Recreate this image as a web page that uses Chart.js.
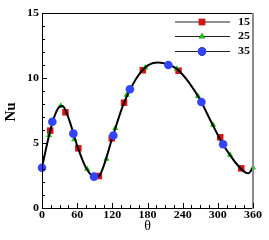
<!DOCTYPE html>
<html>
<head>
<meta charset="utf-8">
<script src="https://cdn.jsdelivr.net/npm/chart.js@4"></script>
<style>
  html, body { margin: 0; padding: 0; background: #fff; }
  #wrap { width: 269px; height: 240px; }
</style>
</head>
<body>
<div id="wrap"><canvas id="chart" width="269" height="240"></canvas></div>
<script>
// Smooth curve (theta in degrees, Nu)
const curveTheta = [0, 10, 20, 30, 35, 45, 60, 75, 90, 97, 105, 120, 140, 160, 180, 198, 215, 230, 250, 270, 290, 310, 330, 345, 352, 360];
const curveNu = [3.1, 5.2, 6.9, 7.8, 7.85, 6.95, 4.8, 3.1, 2.4, 2.45, 3.2, 5.4, 8.1, 9.9, 10.95, 11.2, 11.05, 10.7, 9.7, 8.3, 6.5, 4.8, 3.5, 2.8, 2.67, 3.1];

// Marker series
const theta15 = [14, 40, 62, 97, 119, 140, 172, 233, 304, 340];
const nu15 = [5.95, 7.36, 4.59, 2.46, 5.36, 8.1, 10.6, 10.56, 5.44, 3.05];

const theta25 = [12, 32, 55, 77, 110, 125, 144.5, 176, 230, 266, 292, 321, 360];
const nu25 = [5.6, 7.85, 5.28, 3.0, 3.77, 6.13, 8.7, 10.8, 10.7, 8.6, 6.38, 4.08, 3.1];

const theta35 = [0, 17.6, 53.5, 88.7, 121.7, 150, 215.6, 272, 309];
const nu35 = [3.1, 6.64, 5.72, 2.41, 5.58, 9.13, 11.0, 8.15, 4.9];

const legendLabels = ['15', '25', '35'];
const xTicks = [0, 60, 120, 180, 240, 300, 360];
const yTicks = [0, 5, 10, 15];

const RED = '#dd1111', GREEN = '#11cc11', BLUE = '#3344ff';

function pts(xs, ys) {
    return xs.map((x, i) => ({ x: x, y: ys[i] }));
}

// Draws frame, inward ticks, labels, titles and legend
const framePlugin = {
    id: 'frame',
    afterDraw(chart) {
        const ctx = chart.ctx;
        const xs = chart.scales.x, ys = chart.scales.y;
        const a = chart.chartArea;
        ctx.save();

        // top + left + bottom borders
        ctx.strokeStyle = '#000';
        ctx.lineWidth = 1;
        ctx.beginPath();
        ctx.moveTo(a.left + 0.5, a.bottom + 0.5);
        ctx.lineTo(a.left + 0.5, a.top + 0.5);
        ctx.lineTo(a.right, a.top + 0.5);
        ctx.moveTo(a.left, a.bottom + 0.5);
        ctx.lineTo(a.right, a.bottom + 0.5);
        ctx.stroke();
        // right border in grey
        ctx.strokeStyle = '#8c8c8c';
        ctx.lineWidth = 2;
        ctx.beginPath();
        ctx.moveTo(a.right, a.top);
        ctx.lineTo(a.right, a.bottom + 1);
        ctx.stroke();

        // ticks pointing inwards
        ctx.strokeStyle = '#000';
        ctx.lineWidth = 1;
        ctx.beginPath();
        for (let v = 0; v <= 360; v += 15) {
            const px = Math.round(xs.getPixelForValue(v)) + 0.5;
            const len = v % 60 === 0 ? 5 : 3;
            ctx.moveTo(px, a.bottom);
            ctx.lineTo(px, a.bottom - len);
        }
        for (let v = 0; v <= 15; v += 1) {
            const py = Math.round(ys.getPixelForValue(v)) + 0.5;
            const len = v % 5 === 0 ? 5 : 3;
            ctx.moveTo(a.left, py);
            ctx.lineTo(a.left + len, py);
        }
        ctx.stroke();

        // tick labels (bold serif, slightly wide)
        ctx.fillStyle = '#000';
        ctx.font = 'bold 10px "Liberation Serif"';
        ctx.textBaseline = 'middle';
        const sx = 1.2;
        xTicks.forEach(v => {
            const px = xs.getPixelForValue(v);
            ctx.save();
            ctx.translate(px, 215);
            ctx.scale(sx, 1);
            ctx.textAlign = 'center';
            ctx.fillText(String(v), 0, 0);
            ctx.restore();
        });
        yTicks.forEach(v => {
            const py = ys.getPixelForValue(v);
            ctx.save();
            ctx.translate(a.left - 3, py);
            ctx.scale(sx, 1);
            ctx.textAlign = 'right';
            ctx.fillText(String(v), 0, 0);
            ctx.restore();
        });

        // axis titles
        ctx.font = '14px "Liberation Serif"';
        ctx.textAlign = 'center';
        ctx.fillText('θ', (a.left + a.right) / 2, 226);
        ctx.save();
        ctx.translate(11, 112);
        ctx.rotate(-Math.PI / 2);
        ctx.font = 'bold 15px "Liberation Serif"';
        ctx.fillText('Nu', 0, 0);
        ctx.restore();

        // legend: line with marker in the middle
        const rows = [22, 36.5, 51.5];
        const styles = [
            { color: RED, style: 'rect', r: 4.5 },
            { color: GREEN, style: 'triangle', r: 3.5 },
            { color: BLUE, style: 'circle', r: 4.2 }
        ];
        rows.forEach((y, i) => {
            ctx.strokeStyle = '#222';
            ctx.lineWidth = 1;
            ctx.beginPath();
            ctx.moveTo(175, y);
            ctx.lineTo(230, y);
            ctx.stroke();
            Chart.helpers.drawPoint(ctx, {
                pointStyle: styles[i].style,
                radius: styles[i].r,
                borderWidth: 0
            }, 202, y);
            ctx.fillStyle = styles[i].color;
            ctx.fill();
            ctx.fillStyle = '#000';
            ctx.font = 'bold 10px "Liberation Serif"';
            ctx.save();
            ctx.translate(238, y);
            ctx.scale(sx, 1);
            ctx.textAlign = 'left';
            ctx.fillText(legendLabels[i], 0, 0);
            ctx.restore();
        });

        ctx.restore();
    }
};

function markerSet(label, xs, ys, color, style, r, order) {
    return {
        label: label,
        data: pts(xs, ys),
        showLine: false,
        pointStyle: style,
        pointRadius: r,
        pointBackgroundColor: color,
        pointBorderColor: color,
        pointBorderWidth: 0,
        order: order
    };
}

new Chart(document.getElementById('chart'), {
    type: 'line',
    data: {
        datasets: [
            markerSet('35', theta35, nu35, BLUE, 'circle', 4.3, 0),
            {
                label: 'curve',
                data: pts(curveTheta, curveNu),
                borderColor: '#000',
                borderWidth: 2,
                pointRadius: 0,
                cubicInterpolationMode: 'monotone',
                fill: false,
                order: 1
            },
            markerSet('25', theta25, nu25, GREEN, 'triangle', 3.6, 2),
            markerSet('15', theta15, nu15, RED, 'rect', 4.6, 3)
        ]
    },
    options: {
        responsive: false,
        animation: false,
        events: [],
        layout: { padding: { left: 42, right: 16, top: 13, bottom: 32 } },
        plugins: { legend: { display: false }, tooltip: { enabled: false } },
        scales: {
            x: { type: 'linear', min: 0, max: 360, display: false },
            y: { type: 'linear', min: 0, max: 15, display: false }
        },
        clip: false
    },
    plugins: [framePlugin]
});
</script>
</body>
</html>
